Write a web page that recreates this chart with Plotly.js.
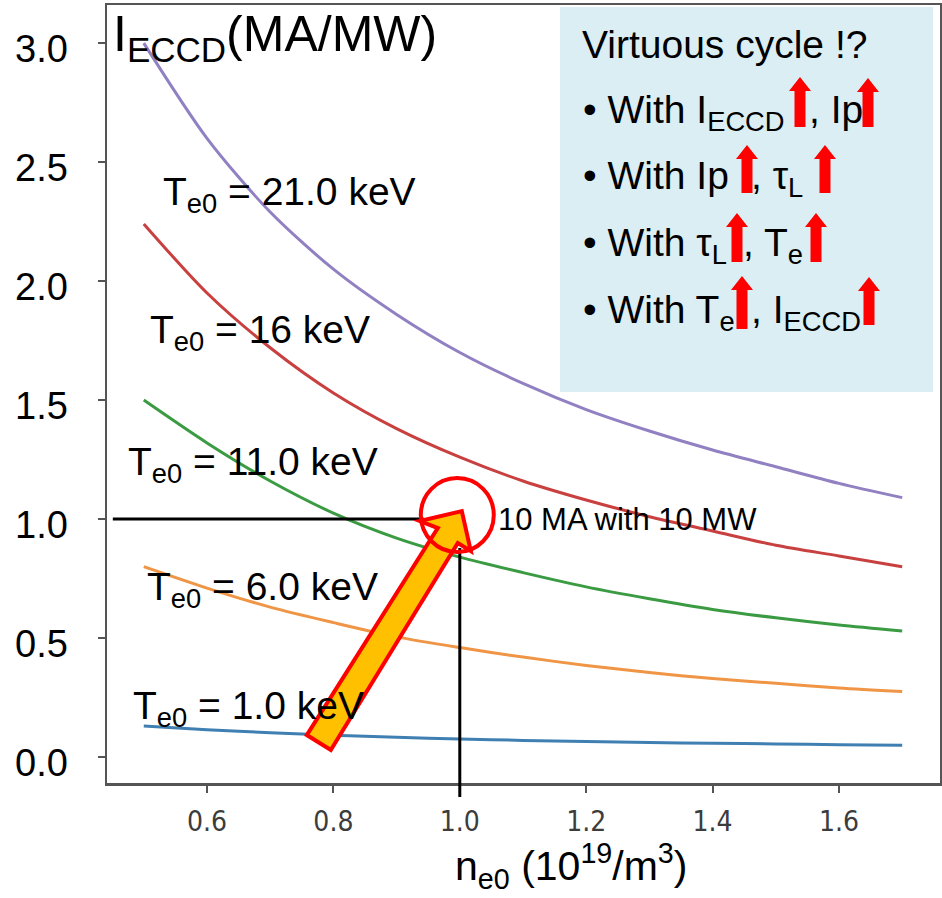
<!DOCTYPE html>
<html>
<head>
<meta charset="utf-8">
<script src="https://cdn.plot.ly/plotly-3.0.1.min.js"></script>
<style>
  html, body { margin: 0; padding: 0; background: #ffffff; }
  #chart { width: 942px; height: 898px; }
</style>
</head>
<body>
<div id="chart"></div>
<script>
// ---- data ----
var density = [0.5, 0.6, 0.7, 0.8, 0.9, 1.0, 1.1, 1.2, 1.3, 1.4, 1.5, 1.6, 1.7];
var te21 = [3.00, 2.60, 2.29, 2.05, 1.86, 1.70, 1.57, 1.46, 1.37, 1.29, 1.22, 1.15, 1.09];
var te16 = [2.24, 1.95, 1.72, 1.53, 1.38, 1.26, 1.16, 1.08, 1.01, 0.95, 0.89, 0.845, 0.80];
var te11 = [1.50, 1.32, 1.16, 1.025, 0.92, 0.84, 0.775, 0.715, 0.665, 0.62, 0.585, 0.555, 0.53];
var te6  = [0.80, 0.71, 0.63, 0.565, 0.505, 0.46, 0.42, 0.385, 0.355, 0.33, 0.31, 0.29, 0.275];
var te1  = [0.13, 0.115, 0.102, 0.092, 0.083, 0.076, 0.070, 0.065, 0.061, 0.058, 0.055, 0.052, 0.050];
var seriesNames = ['Te0 = 1.0 keV', 'Te0 = 6.0 keV', 'Te0 = 11.0 keV', 'Te0 = 16 keV', 'Te0 = 21.0 keV'];
var xTickVals = [0.6, 0.8, 1.0, 1.2, 1.4, 1.6];
var yTickVals = [0.0, 0.5, 1.0, 1.5, 2.0, 2.5, 3.0];

// ---- geometry helpers (layout only) ----
var W = 942, H = 898, L = 107, R = 2, T = 5, B = 115;
var PW = W - L - R, PH = H - T - B;
function px(x) { return (x - L) / PW; }
function py(y) { return (T + PH - y) / PH; }

var FONT = 'Liberation Sans, Arial, Helvetica, sans-serif';
var colors = ['#3f7fb2', '#ef9545', '#3a9b42', '#c8403f', '#9180c2'];
var ys = [te1, te6, te11, te16, te21];

var traces = ys.map(function (arr, i) {
  return {
    x: density, y: arr, type: 'scatter', mode: 'lines', name: seriesNames[i],
    line: { color: colors[i], width: 3, shape: 'spline', smoothing: 0.8 },
    hoverinfo: 'skip'
  };
});

var shapes = [];
// inset box
shapes.push({ type: 'rect', xref: 'paper', yref: 'paper', x0: px(560), x1: px(933), y0: py(392), y1: py(7),
  fillcolor: '#daeef3', line: { width: 0 }, layer: 'above' });
// inset red arrows
function upArrow(cx, t, bot) {
  var hw = 11, sw = 5.5, hh = 14;
  var pts = [[cx, t], [cx + hw, t + hh], [cx + sw, t + hh], [cx + sw, bot], [cx - sw, bot], [cx - sw, t + hh], [cx - hw, t + hh]];
  var d = pts.map(function (p, k) { return (k ? 'L' : 'M') + px(p[0]).toFixed(5) + ',' + py(p[1]).toFixed(5); }).join(' ') + ' Z';
  return { type: 'path', xref: 'paper', yref: 'paper', path: d, fillcolor: '#ff0000', line: { width: 0 }, layer: 'above' };
}
[[800, 77, 127], [868, 78, 127], [747, 145, 193], [825, 145, 193], [737, 213, 262], [816, 213, 262], [742, 276, 329], [869, 277, 325]]
  .forEach(function (a) { shapes.push(upArrow(a[0], a[1], a[2])); });

// reference lines at 1.0 MA/MW and 1.0e19
shapes.push({ type: 'line', xref: 'x', yref: 'y', x0: 0.451, x1: 0.943, y0: 1.0, y1: 1.0, line: { color: '#000', width: 3 }, layer: 'above' });
shapes.push({ type: 'line', xref: 'x', yref: 'paper', x0: 1.0, x1: 1.0, y0: py(797), y1: py(548), line: { color: '#000', width: 3 }, layer: 'above' });

// big arrow (pixel outline converted to data coords)
function dX(p) { return 1 + (p - 459) / 632; }
function dY(p) { return (757 - p) / 238; }
var big = [[306, 735], [437, 528], [419, 521], [461, 511], [470, 551], [457, 543], [330, 750]];
var bigPath = big.map(function (p, k) { return (k ? 'L' : 'M') + dX(p[0]).toFixed(5) + ',' + dY(p[1]).toFixed(5); }).join(' ') + ' Z';
shapes.push({ type: 'path', xref: 'x', yref: 'y', path: bigPath, fillcolor: '#ffc000', line: { color: '#ff0000', width: 4 }, layer: 'above' });
// red circle
shapes.push({ type: 'circle', xref: 'x', yref: 'y', x0: dX(420), x1: dX(493), y0: dY(552), y1: dY(478),
  line: { color: '#ff0000', width: 4 }, fillcolor: 'rgba(0,0,0,0)', layer: 'above' });

function ann(text, xp, yp, size, extra) {
  var a = { text: text, xref: 'paper', yref: 'paper', x: px(xp), y: py(yp), xanchor: 'left', yanchor: 'top',
    showarrow: false, font: { family: FONT, size: size, color: '#000' }, borderpad: 0 };
  if (extra) for (var k in extra) a[k] = extra[k];
  return a;
}
// top of text box = baseline - 0.905*size
function topOf(baseline, size) { return baseline - 0.905 * size; }

var annotations = [
  ann('I<sub>ECCD</sub>(MA/MW)', 112, topOf(50, 50), 50),
  ann('T<sub>e0</sub> = 21.0 keV', 162, topOf(204, 39), 39),
  ann('T<sub>e0</sub> = 16 keV', 149, topOf(342, 39), 39),
  ann('T<sub>e0</sub> = 11.0 keV', 127, topOf(474, 39), 39),
  ann('T<sub>e0</sub> = 6.0 keV', 146, topOf(599, 39), 39),
  ann('T<sub>e0</sub> = 1.0 keV', 132, topOf(718, 39), 39),
  ann('10 MA with 10 MW', 497, topOf(529, 31), 31),
  ann('Virtuous cycle !?', 581, topOf(57, 39), 39),
  ann('• With I<sub>ECCD</sub>', 582, topOf(122, 39), 39),
  ann(', Ip', 808, topOf(122, 39), 39),
  ann('• With Ip', 582, topOf(188, 39), 39),
  ann(', τ<sub>L</sub>', 750, topOf(188, 39), 39),
  ann('• With τ<sub>L</sub>', 582, topOf(255, 39), 39),
  ann(', T<sub>e</sub>', 742, topOf(255, 39), 39),
  ann('• With T<sub>e</sub>', 582, topOf(322, 39), 39),
  ann(', I<sub>ECCD</sub>', 750, topOf(322, 39), 39),
  ann('n<sub>e0</sub> (10<sup>19</sup>/m<sup>3</sup>)', 571, 866, 41, { xanchor: 'center', yanchor: 'middle' })
];

var layout = {
  width: W, height: H,
  margin: { l: L, r: R, t: T, b: B, pad: 0 },
  paper_bgcolor: '#ffffff', plot_bgcolor: '#ffffff',
  showlegend: false,
  font: { family: FONT, color: '#000' },
  xaxis: {
    range: [0.4418, 1.7598], tickvals: xTickVals, tickformat: '.1f',
    showgrid: false, zeroline: false, showline: true, mirror: true,
    linecolor: '#555', linewidth: 2.5, ticks: 'outside', ticklen: 7, tickwidth: 2, tickcolor: '#555',
    tickfont: { family: 'DejaVu Sans Condensed, Liberation Sans Narrow, DejaVu Sans, sans-serif', size: 28, color: '#3c3c3c' },
    ticklabelstandoff: 5
  },
  yaxis: {
    range: [-0.109, 3.160], tickvals: yTickVals, tickformat: '.1f',
    showgrid: false, zeroline: false, showline: true, mirror: true,
    linecolor: '#555', linewidth: 2.5, ticks: 'outside', ticklen: 7, tickwidth: 2, tickcolor: '#555',
    tickfont: { family: FONT, size: 38, color: '#000' },
    ticklabelstandoff: 22, ticklabelshift: 6
  },
  shapes: shapes,
  annotations: annotations
};

Plotly.newPlot('chart', traces, layout, { staticPlot: true, displayModeBar: false });
</script>
</body>
</html>
